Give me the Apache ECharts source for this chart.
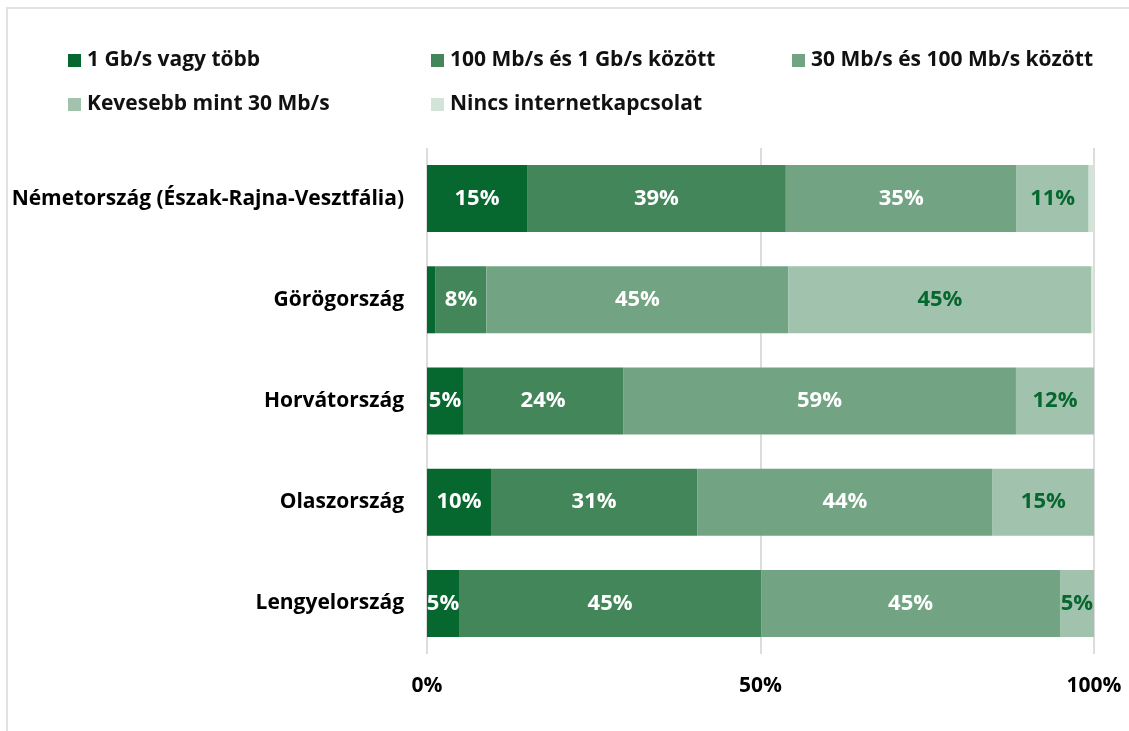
<!DOCTYPE html>
<html>
<head>
<meta charset="utf-8">
<script src="https://cdn.jsdelivr.net/npm/echarts@6/dist/echarts.min.js"></script>
<style>
  html, body { margin: 0; padding: 0; background: #fff; }
  #chart { width: 1129px; height: 731px; }
</style>
</head>
<body>
<div id="chart"></div>
<script>
const countries = [
  "Németország (Észak-Rajna-Vesztfália)",
  "Görögország",
  "Horvátország",
  "Olaszország",
  "Lengyelország"
];
const seriesNames = [
  "1 Gb/s vagy több",
  "100 Mb/s és 1 Gb/s között",
  "30 Mb/s és 100 Mb/s között",
  "Kevesebb mint 30 Mb/s",
  "Nincs internetkapcsolat"
];
const gbitOrMore = [15, 1.3, 5.4, 9.6, 4.8];
const from100To1000 = [38.8, 7.6, 24, 30.9, 45.3];
const from30To100 = [34.6, 45.3, 58.9, 44.3, 44.8];
const under30 = [10.8, 45.4, 11.7, 15.2, 5.1];
const noInternet = [0.8, 0.2, 0, 0, 0];
const axisTicks = [0, 50, 100];

const colors = ["#06672f", "#428659", "#72a483", "#a1c2ad", "#d2e3d8"];
const labelColors = ["#ffffff", "#ffffff", "#ffffff", "#06672f", "#06672f"];
const values = [gbitOrMore, from100To1000, from30To100, under30, noInternet];
const font = "'Open Sans', 'Noto Sans', sans-serif";

const chart = echarts.init(document.getElementById("chart"));

// legend laid out in 3 columns, one component per item
const legendPos = [
  { left: 63, top: 45 },
  { left: 426, top: 45 },
  { left: 787, top: 45 },
  { left: 63, top: 89 },
  { left: 426, top: 89 }
];
const legends = seriesNames.map((name, i) => ({
  data: [name],
  left: legendPos[i].left,
  top: legendPos[i].top,
  icon: "rect",
  itemWidth: 13,
  itemHeight: 13,
  itemGap: 0,
  selectedMode: false,
  textStyle: { fontFamily: font, fontWeight: "bold", fontSize: 21, color: "#111", padding: [0, 0, 0, 1] }
}));

const option = {
  animation: false,
  color: colors,
  graphic: [{
    type: "rect",
    shape: { x: 7, y: 8, width: 1300, height: 900 },
    style: { fill: "none", stroke: "#e2e2e2", lineWidth: 2 },
    silent: true
  }],
  legend: legends,
  grid: { left: 427, right: 35, top: 148, bottom: 77 },
  xAxis: {
    type: "value",
    min: axisTicks[0],
    max: axisTicks[axisTicks.length - 1],
    interval: axisTicks[1] - axisTicks[0],
    axisLine: { show: false },
    axisTick: { show: false },
    splitLine: { lineStyle: { color: "#dcdcdc", width: 2 } },
    axisLabel: {
      formatter: "{value}%",
      margin: 22,
      fontFamily: font,
      fontWeight: "bold",
      fontSize: 21,
      color: "#000"
    }
  },
  yAxis: {
    type: "category",
    inverse: true,
    data: countries,
    axisLine: { show: false },
    axisTick: { show: false },
    axisLabel: {
      margin: 23,
      fontFamily: font,
      fontWeight: "bold",
      fontSize: 21,
      color: "#000"
    }
  },
  series: seriesNames.map((name, i) => ({
    name: name,
    type: "bar",
    stack: "total",
    barWidth: 67,
    data: values[i],
    itemStyle: { color: colors[i] },
    label: {
      show: true,
      position: "inside",
      fontFamily: font,
      fontWeight: "bold",
      fontSize: 22,
      color: labelColors[i],
      formatter: p => (p.value >= 2 ? Math.round(p.value) + "%" : "")
    }
  }))
};

chart.setOption(option);
</script>
</body>
</html>
